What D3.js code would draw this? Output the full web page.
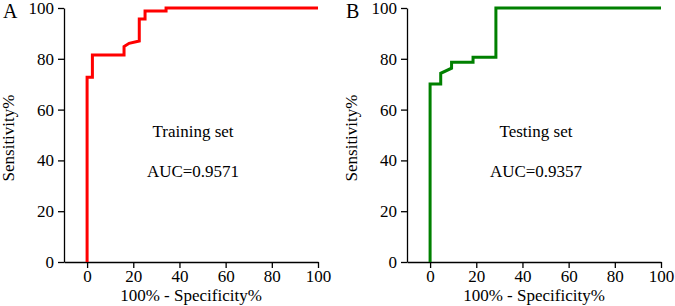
<!DOCTYPE html>
<html lang="en">
<head>
    <meta charset="utf-8">
    <title>ROC curves</title>
    <script src="https://d3js.org/d3.v7.min.js"></script>
    <style>
        body { margin: 0; background: #fff; }
    </style>
</head>
<body>
<div id="chart"></div>
<script>
    // ROC points (100% - specificity, sensitivity)
    const trainFpr  = [0, 0,    2.3,  2.3,  16,   16,   18.2, 22.6, 22.6, 25.1, 25.1, 34.2, 34.2, 100];
    const trainSens = [0, 72.7, 72.7, 81.5, 81.5, 84.8, 86.1, 87,   95.7, 95.7, 98.8, 98.8, 100,  100];
    const testFpr   = [0, 0,    4.6,  4.6,  9.3,  9.3,  18.6, 18.6, 28.5, 28.5, 100];
    const testSens  = [0, 70.1, 70.1, 74.3, 76.3, 78.6, 78.6, 80.6, 80.6, 100,  100];

    const xTicks = [0, 20, 40, 60, 80, 100];
    const yTicks = [0, 20, 40, 60, 80, 100];

    const panels = [
        {letter: "A", fpr: trainFpr, sens: trainSens, color: "#ff0000", title: "Training set", auc: "AUC=0.9571", left: 64},
        {letter: "B", fpr: testFpr, sens: testSens, color: "#008000", title: "Testing set", auc: "AUC=0.9357", left: 407}
    ];

    const W = 675, H = 306;
    const plotW = 254, plotTop = 8, plotBottom = 262;
    const serif = "'Liberation Serif', 'Times New Roman', 'DejaVu Serif', serif";

    const svg = d3.select("#chart").append("svg")
        .attr("width", W)
        .attr("height", H)
        .style("font-family", serif);

    panels.forEach(p => {
        const x = d3.scaleLinear().domain([-10, 100]).range([p.left, p.left + plotW]);
        const y = d3.scaleLinear().domain([0, 100]).range([plotBottom, plotTop]);
        const g = svg.append("g");

        // axes
        const xAxis = g.append("g")
            .attr("transform", `translate(0,${plotBottom})`)
            .call(d3.axisBottom(x).tickValues(xTicks).tickSize(6).tickPadding(2).tickSizeOuter(0));
        const yAxis = g.append("g")
            .attr("transform", `translate(${p.left},0)`)
            .call(d3.axisLeft(y).tickValues(yTicks).tickSize(6).tickPadding(4).tickSizeOuter(0));
        [xAxis, yAxis].forEach(a => {
            a.attr("font-family", null).attr("font-size", null);
            a.selectAll("text").style("font-family", serif).style("font-size", "17px").attr("fill", "#000");
            a.selectAll(".domain, .tick line").attr("stroke", "#000").attr("stroke-width", 1.3);
        });

        // ROC curve
        const pts = p.fpr.map((v, i) => [v, p.sens[i]]);
        g.append("path")
            .datum(pts)
            .attr("fill", "none")
            .attr("stroke", p.color)
            .attr("stroke-width", 3)
            .attr("stroke-linejoin", "miter")
            .attr("d", d3.line().x(d => x(d[0])).y(d => y(d[1])));

        // annotations
        const cx = x(45) + 2;
        g.append("text").attr("x", cx).attr("y", 137)
            .attr("text-anchor", "middle").style("font-size", "17px").text(p.title);
        g.append("text").attr("x", cx).attr("y", 177)
            .attr("text-anchor", "middle").style("font-size", "17px").text(p.auc);

        // axis titles
        g.append("text")
            .attr("transform", `translate(${p.left - 50},${(plotTop + plotBottom) / 2 + 3}) rotate(-90)`)
            .attr("text-anchor", "middle").style("font-size", "17px").text("Sensitivity%");
        g.append("text")
            .attr("x", x(45)).attr("y", 301)
            .attr("text-anchor", "middle").style("font-size", "17px").text("100% - Specificity%");

        // panel letter
        g.append("text")
            .attr("x", p.left - 61).attr("y", 18)
            .style("font-size", "20px").text(p.letter);
    });
</script>
</body>
</html>
